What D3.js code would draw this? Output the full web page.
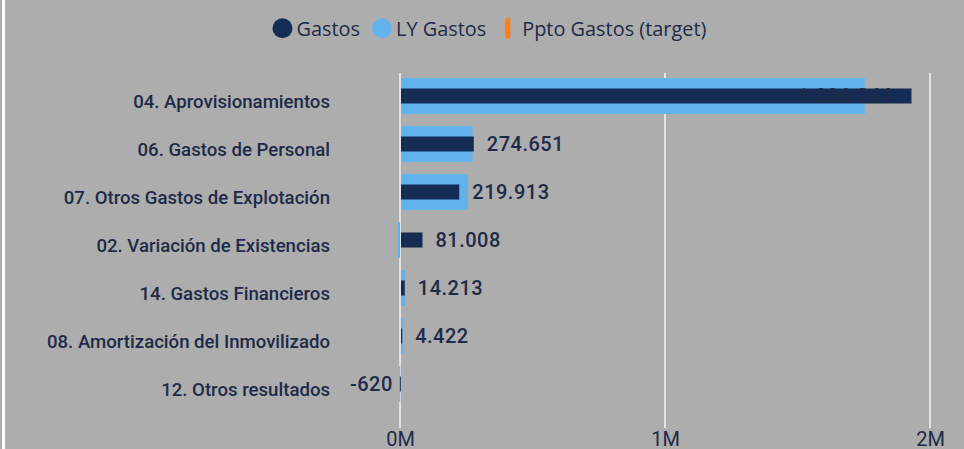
<!DOCTYPE html>
<html>
<head>
<meta charset="utf-8">
<script src="https://cdn.jsdelivr.net/npm/d3@7/dist/d3.min.js"></script>
<style>
  html, body { margin: 0; padding: 0; background: #ADADAD; }
  svg { display: block; }
</style>
</head>
<body>
<svg id="chart" width="964" height="449"></svg>
<script>
// ---- data ----
const categories = [
  "04. Aprovisionamientos",
  "06. Gastos de Personal",
  "07. Otros Gastos de Explotación",
  "02. Variación de Existencias",
  "14. Gastos Financieros",
  "08. Amortización del Inmovilizado",
  "12. Otros resultados"
];
const gastos   = [1926244, 274651, 219913, 81008, 14213, 4422, -620];
const lyGastos = [1750000, 270000, 252000, -8500, 15000, 7000, -3000];
const tickValues = [0, 1000000, 2000000];
const tickLabels = ["0M", "1M", "2M"];
const legendItems = ["Gastos", "LY Gastos", "Ppto Gastos (target)"];

// ---- style ----
const C_DARK = "#152C54", C_LIGHT = "#62B2EB", C_ORANGE = "#FF7F0E";
const C_TEXT = "#1D2B49", C_GRID = "#E2E2E2", C_BG = "#ADADAD";
const LABEL_FONT = "Roboto, 'DejaVu Sans', sans-serif";
const LEGEND_FONT = "'Segoe UI', 'Open Sans', 'Noto Sans', sans-serif";

const svg = d3.select("#chart");
svg.append("rect").attr("width", 964).attr("height", 449).attr("fill", C_BG);
svg.append("rect").attr("x", 2).attr("y", 0).attr("width", 3).attr("height", 449).attr("fill", "#FFFFFF");

const x = d3.scaleLinear().domain([0, 2000000]).range([400, 930]);
const y = d3.scaleBand().domain(categories).range([72, 408]).paddingInner(0.25).paddingOuter(0.125);

// gridlines
svg.append("g").selectAll("line").data(tickValues).join("line")
  .attr("x1", d => x(d)).attr("x2", d => x(d))
  .attr("y1", 73).attr("y2", 428)
  .attr("stroke", C_GRID).attr("stroke-width", 2);

// x axis labels
const axis = d3.axisBottom(x).tickValues(tickValues)
  .tickFormat((d, i) => tickLabels[i]).tickSize(0).tickPadding(0);
const gx = svg.append("g").attr("transform", "translate(0,428)").call(axis);
gx.select(".domain").remove();
gx.selectAll("text")
  .attr("y", 0).attr("dy", "18px")
  .attr("fill", C_TEXT)
  .style("font-family", LABEL_FONT).style("font-size", "20px");

// category labels
svg.append("g").selectAll("text").data(categories).join("text")
  .attr("x", 330)
  .attr("y", d => y(d) + y.bandwidth() / 2 + 12)
  .attr("text-anchor", "end")
  .attr("fill", C_TEXT)
  .style("font-family", LABEL_FONT).style("font-size", "18.6px").style("font-weight", 500)
  .text(d => d);

// LY bars
const bw = y.bandwidth();
svg.append("g").selectAll("rect").data(categories).join("rect")
  .attr("x", (d, i) => Math.min(x(0), x(lyGastos[i])) + (lyGastos[i] >= 0 ? 1 : 0))
  .attr("y", d => y(d))
  .attr("width", (d, i) => Math.max(1, Math.abs(x(lyGastos[i]) - x(0))))
  .attr("height", bw)
  .attr("fill", C_LIGHT);

// Gastos bars
const gh = 15;
svg.append("g").selectAll("rect").data(categories).join("rect")
  .attr("x", (d, i) => Math.min(x(0), x(gastos[i])) + (gastos[i] >= 0 ? 1 : 0))
  .attr("y", d => y(d) + bw / 2 - gh / 2)
  .attr("width", (d, i) => Math.max(1, Math.abs(x(gastos[i]) - x(0))))
  .attr("height", gh)
  .attr("fill", C_DARK);

// data labels
const fmt = v => (v < 0 ? "-" : "") + d3.format(",")(Math.abs(v)).replace(/,/g, ".");
const labels = svg.append("g").selectAll("text").data(categories).join("text")
  .attr("y", d => y(d) + bw / 2 + 7)
  .attr("fill", C_TEXT)
  .style("font-family", LABEL_FONT).style("font-size", "20px").style("font-weight", 500)
  .style("letter-spacing", "0.5px")
  .text((d, i) => fmt(gastos[i]));
labels.each(function(d, i) {
  const t = d3.select(this);
  const w = this.getComputedTextLength();
  const xe = x(gastos[i]);
  if (gastos[i] < 0) {
    t.attr("x", xe - 7).attr("text-anchor", "end");
  } else if (xe + 14 + w > 964) {
    t.attr("x", xe - 18).attr("text-anchor", "end");
  } else {
    t.attr("x", xe + 14).attr("text-anchor", "start");
  }
});

// legend
const lg = svg.append("g");
let lx = 272.5;
const ly = 28.3;
legendItems.forEach((name, i) => {
  if (i < 2) {
    lg.append("circle").attr("cx", lx + 10).attr("cy", ly).attr("r", 10)
      .attr("fill", i === 0 ? C_DARK : C_LIGHT);
  } else {
    lg.append("rect").attr("x", lx + 7).attr("y", ly - 10).attr("width", 5).attr("height", 20)
      .attr("fill", C_ORANGE);
  }
  const t = lg.append("text").attr("x", lx + 24).attr("y", ly + 7.5)
    .attr("fill", C_TEXT)
    .style("font-family", LEGEND_FONT).style("font-size", "19.9px")
    .text(name);
  lx = lx + 24 + t.node().getComputedTextLength() + 12;
});
</script>
</body>
</html>
